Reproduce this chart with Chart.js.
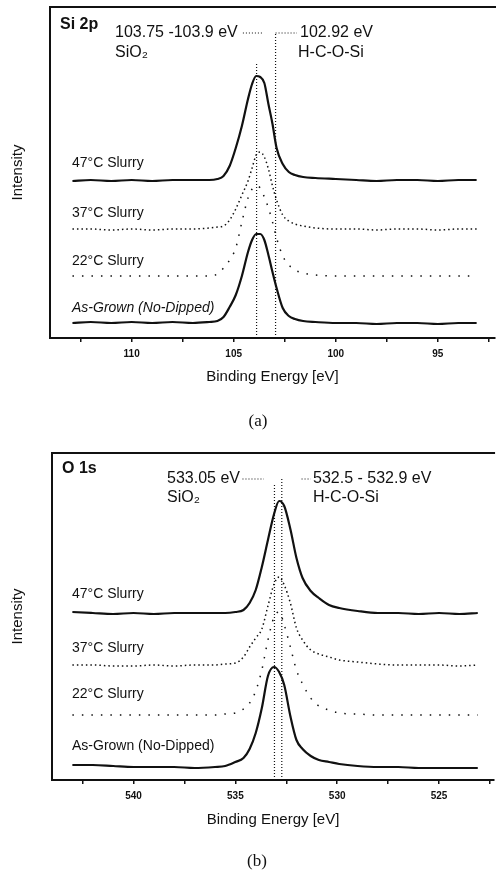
<!DOCTYPE html>
<html>
<head>
<meta charset="utf-8">
<script src="https://cdn.jsdelivr.net/npm/chart.js@4.4.1/dist/chart.umd.min.js"></script>
<style>
  body { margin: 0; background: #fff; }
  canvas { position: absolute; left: 0; }
</style>
</head>
<body>
<canvas id="si2pChart" width="496" height="436" style="top:0px"></canvas>
<canvas id="o1sChart" width="496" height="437" style="top:436px"></canvas>
<script>
// Si 2p spectra (binding energy in eV, intensity in arbitrary offset units)
const siEnergy = [112.9, 112, 111, 110, 109, 108, 107, 106.2, 105.8, 105.5, 105.2, 104.9, 104.6, 104.3, 104.1, 103.9, 103.7, 103.5, 103.3, 103.1, 102.9, 102.6, 102.3, 102.0, 101.6, 101.0, 100, 99, 98, 97, 96, 95, 94, 93.1];
const si47 = [157, 158, 157, 158, 157, 158, 158, 158, 159, 162, 172, 190, 212, 239, 254, 262, 261, 255, 234, 214, 190, 174, 166, 163, 161, 160, 159, 158, 157, 158, 158, 157, 158, 158];
const si37 = [109, 109, 108, 109, 108, 109, 109, 110, 111, 112, 118, 129, 143, 157, 170, 183, 186, 181, 169, 152, 138, 123, 117, 114, 112, 110, 109, 109, 108, 109, 109, 108, 109, 109];
const si22 = [62, 62, 62, 62, 62, 62, 62, 62, 64, 70, 78, 90, 116, 140, 149, 152, 150, 141, 130, 116, 100, 82, 73, 68, 65, 63, 62, 62, 62, 62, 62, 62, 62, 62];
const siGrown = [15, 16, 15, 16, 15, 16, 15, 16, 17, 21, 31, 43, 62, 86, 98, 104, 104, 98, 83, 66, 50, 30, 22, 19, 17, 16, 15, 15, 14, 15, 15, 14, 15, 15];
const siMarkEnergy = [103.88, 102.95];
const siMarkTop = [276, 305];

// O 1s spectra
const oEnergy = [543.0, 542, 541, 540, 539, 538, 537, 536, 535.5, 535.0, 534.6, 534.3, 534.0, 533.7, 533.4, 533.1, 532.85, 532.6, 532.3, 532.0, 531.7, 531.3, 530.9, 530.4, 529.9, 529, 528, 527, 526, 525, 524, 523.1];
const o47 = [168, 167, 166, 167, 166, 167, 167, 167, 167, 168, 170, 177, 190, 213, 240, 266, 279, 274, 251, 222, 202, 189, 182, 175, 172, 169, 167, 167, 166, 167, 166, 167];
const o37 = [115, 115, 114, 114, 115, 114, 115, 115, 116, 117, 123, 133, 142, 151, 174, 196, 203, 195, 177, 152, 140, 130, 126, 123, 120, 118, 116, 115, 115, 115, 114, 115];
const o22 = [65, 65, 65, 65, 65, 65, 65, 65, 66, 67, 71, 77, 89, 110, 140, 163, 168, 155, 133, 110, 96, 82, 74, 70, 67, 66, 65, 65, 65, 65, 65, 65];
const oGrown = [15, 15, 14, 13, 13, 13, 12, 13, 14, 18, 22, 31, 47, 72, 104, 113, 108, 95, 64, 40, 31, 24, 20, 18, 16, 14, 13, 13, 12, 12, 12, 12];
const oMarkEnergy = [533.08, 532.72];
const oMarkTop = [295, 302];

const ink = '#111';
const sans = "'Liberation Sans', Arial, sans-serif";

const curveStyles = [
  { borderWidth: 2.2, borderDash: [] },
  { borderWidth: 1.5, borderDash: [1.5, 3] },
  { borderWidth: 1.5, borderDash: [1.5, 8] },
  { borderWidth: 2.2, borderDash: [] }
];

function toPoints(xs, ys) {
  return xs.map((x, i) => ({ x: x, y: ys[i] }));
}

function dotted(points) {
  return {
    data: points,
    borderColor: ink,
    borderWidth: 1.2,
    borderDash: [1, 2],
    pointRadius: 0,
    tension: 0
  };
}

// frame top + free text
function panelDecor(labels) {
  return {
    id: 'panelDecor',
    afterDraw(chart) {
      const ctx = chart.ctx, a = chart.chartArea;
      ctx.save();
      ctx.strokeStyle = ink;
      ctx.lineWidth = 2;
      ctx.beginPath();
      ctx.moveTo(a.left - 1, a.top);
      ctx.lineTo(a.right + 1, a.top);
      ctx.stroke();
      ctx.fillStyle = ink;
      ctx.textBaseline = 'middle';
      labels.forEach(l => {
        ctx.font = l.font;
        ctx.textAlign = l.align || 'left';
        ctx.fillText(l.text, l.x, l.y);
      });
      ctx.restore();
    }
  };
}

function xpsChart(el, p) {
  const datasets = p.curves.map((c, i) => ({
    data: toPoints(p.energy, c),
    borderColor: ink,
    borderWidth: curveStyles[i].borderWidth,
    borderDash: curveStyles[i].borderDash,
    pointRadius: 0,
    cubicInterpolationMode: 'monotone'
  }));
  p.markEnergy.forEach((e, i) => {
    datasets.push(dotted([{ x: e, y: 0 }, { x: e, y: p.markTop[i] }]));
  });
  p.leaders.forEach(l => datasets.push(dotted(l)));

  return new Chart(el, {
    type: 'line',
    data: { datasets: datasets },
    plugins: [panelDecor(p.labels)],
    options: {
      responsive: false,
      devicePixelRatio: 1,
      animation: false,
      layout: { padding: { left: 0, right: 1, top: p.padTop, bottom: p.padBottom } },
      plugins: { legend: { display: false }, tooltip: { enabled: false } },
      scales: {
        x: {
          type: 'linear',
          min: p.xMin,
          max: p.xMax,
          reverse: true,
          afterFit: s => { s.height = 50; },
          border: { color: ink, width: 2 },
          grid: { drawOnChartArea: false, color: ink, lineWidth: 1.5, tickLength: 4 },
          ticks: {
            stepSize: 2.5,
            includeBounds: false,
            autoSkip: false,
            maxRotation: 0,
            padding: 6,
            color: ink,
            font: { family: sans, size: 10, weight: 'bold' },
            callback: v => (v % 5 === 0 ? v : '')
          },
          title: {
            display: true,
            text: 'Binding Energy [eV]',
            color: ink,
            font: { family: sans, size: 15 },
            padding: { top: 0, bottom: p.titlePad }
          }
        },
        y: {
          min: 0,
          max: p.yMax,
          afterFit: s => { s.width = p.yWidth; },
          border: { color: ink, width: 2 },
          grid: { display: false },
          ticks: { display: false },
          title: {
            display: true,
            text: 'Intensity',
            color: ink,
            font: { family: sans, size: 15 },
            padding: { top: 9, bottom: 0 }
          }
        }
      }
    }
  });
}

const curveFont = '14px ' + sans;
const noteFont = '16px ' + sans;

xpsChart(document.getElementById('si2pChart'), {
  energy: siEnergy,
  curves: [si47, si37, si22, siGrown],
  markEnergy: siMarkEnergy,
  markTop: siMarkTop,
  leaders: [
    [{ x: 104.55, y: 305 }, { x: 103.6, y: 305 }],
    [{ x: 102.95, y: 305 }, { x: 101.9, y: 305 }]
  ],
  xMin: 92.2, xMax: 114.0, yMax: 331,
  yWidth: 50, padTop: 7, padBottom: 48, titlePad: 2,
  labels: [
    { text: 'Si 2p', x: 60, y: 25, font: 'bold 16px ' + sans },
    { text: '103.75 -103.9 eV', x: 115, y: 33, font: noteFont },
    { text: 'SiO₂', x: 115, y: 53, font: noteFont },
    { text: '102.92 eV', x: 300, y: 33, font: noteFont },
    { text: 'H-C-O-Si', x: 298, y: 53, font: noteFont },
    { text: '47°C Slurry', x: 72, y: 163, font: curveFont },
    { text: '37°C Slurry', x: 72, y: 213, font: curveFont },
    { text: '22°C Slurry', x: 72, y: 261, font: curveFont },
    { text: 'As-Grown (No-Dipped)', x: 72, y: 308, font: 'italic ' + curveFont },
    { text: '(a)', x: 258, y: 422, align: 'center', font: "17px 'Liberation Serif', 'Times New Roman', serif" }
  ]
});

xpsChart(document.getElementById('o1sChart'), {
  energy: oEnergy,
  curves: [o47, o37, o22, oGrown],
  markEnergy: oMarkEnergy,
  markTop: oMarkTop,
  leaders: [
    [{ x: 534.65, y: 301 }, { x: 533.6, y: 301 }],
    [{ x: 531.75, y: 301 }, { x: 531.3, y: 301 }]
  ],
  xMin: 522.3, xMax: 544.0, yMax: 327,
  yWidth: 52, padTop: 17, padBottom: 43, titlePad: 1,
  labels: [
    { text: 'O 1s', x: 62, y: 33, font: 'bold 16px ' + sans },
    { text: '533.05 eV', x: 167, y: 43, font: noteFont },
    { text: 'SiO₂', x: 167, y: 62, font: noteFont },
    { text: '532.5 - 532.9 eV', x: 313, y: 43, font: noteFont },
    { text: 'H-C-O-Si', x: 313, y: 62, font: noteFont },
    { text: '47°C Slurry', x: 72, y: 158, font: curveFont },
    { text: '37°C Slurry', x: 72, y: 212, font: curveFont },
    { text: '22°C Slurry', x: 72, y: 258, font: curveFont },
    { text: 'As-Grown (No-Dipped)', x: 72, y: 310, font: curveFont },
    { text: '(b)', x: 257, y: 426, align: 'center', font: "17px 'Liberation Serif', 'Times New Roman', serif" }
  ]
});
</script>
</body>
</html>
